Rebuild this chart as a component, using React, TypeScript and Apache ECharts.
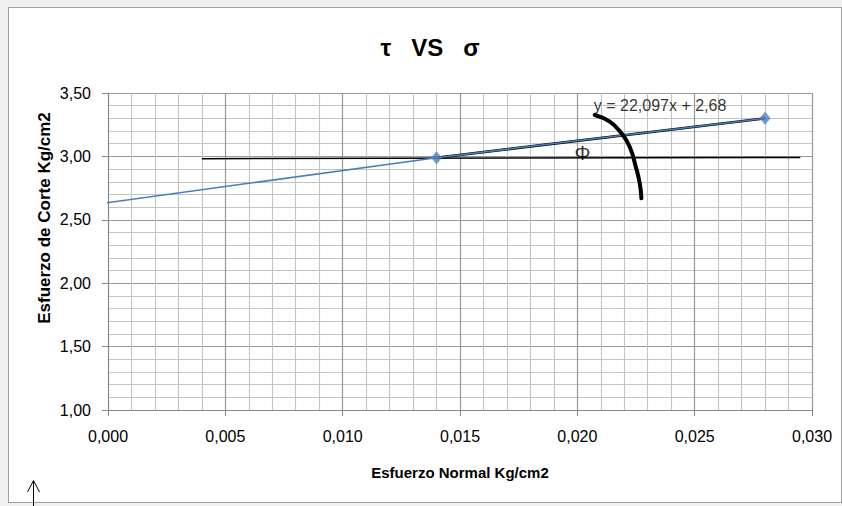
import React, { useEffect, useRef } from "react";
import * as echarts from "echarts";

// Data
const puntosX = [0.014, 0.028];
const puntosY = [2.99, 3.3];
const lineaAzulX = [-0.0009, 0.014, 0.028];
const lineaAzulY = [2.613, 2.99, 3.3];
const horizontalX = [0.004, 0.0295];
const horizontalY = [2.982, 2.992];
const arcoX = [0.02074, 0.02138, 0.02188, 0.02223, 0.02249, 0.02266, 0.02273];
const arcoY = [3.3265, 3.2737, 3.1822, 3.0765, 2.9188, 2.7879, 2.6696];
const phiPos = [0.02022, 3.0245];
const ecuacionPos = [0.0207, 3.3975];
const ecuacionTexto = "y = 22,097x + 2,68";
const titulo = "τ   VS   σ";
const tituloX = "Esfuerzo Normal Kg/cm2";
const tituloY = "Esfuerzo de Corte Kg/cm2";

const zip = (xs: number[], ys: number[]) => xs.map((x, i) => [x, ys[i]]);

const FONT = "'Liberation Sans', Arial, sans-serif";

export default function App() {
  const ref = useRef<HTMLDivElement>(null);
  useEffect(() => {
    document.body.style.margin = "0";
    if (!ref.current) return;
    const chart = echarts.init(ref.current, null, { renderer: "svg" });
    chart.setOption({
      animation: false,
      title: {
        text: titulo,
        left: 430,
        top: 35,
        padding: 0,
        textAlign: "center",
        textStyle: { fontFamily: FONT, fontSize: 24, fontWeight: "bold", color: "#000" },
      },
      grid: { left: 108, top: 93, right: 30, bottom: 96, containLabel: false },
      xAxis: {
        type: "value",
        min: 0,
        max: 0.03,
        interval: 0.005,
        name: tituloX,
        nameLocation: "middle",
        nameGap: 55,
        nameTextStyle: { fontFamily: FONT, fontSize: 15, fontWeight: "bold", color: "#000" },
        axisLine: { lineStyle: { color: "#868686", width: 1 } },
        axisTick: { show: true, length: 6, lineStyle: { color: "#868686" } },
        minorTick: { show: false, splitNumber: 5 },
        axisLabel: {
          margin: 18,
          fontFamily: FONT,
          fontSize: 16,
          color: "#000",
          formatter: (v: number) => v.toFixed(3).replace(".", ","),
        },
        splitLine: { show: true, lineStyle: { color: "#999999", width: 1.2 } },
        minorSplitLine: { show: true, lineStyle: { color: "#c4c4c4", width: 1.1 } },
      },
      yAxis: {
        type: "value",
        min: 1,
        max: 3.5,
        interval: 0.5,
        axisLine: { show: true, lineStyle: { color: "#868686", width: 1 } },
        axisTick: { show: true, length: 6, lineStyle: { color: "#868686" } },
        minorTick: { show: false, splitNumber: 5 },
        axisLabel: {
          margin: 17,
          fontFamily: FONT,
          fontSize: 16,
          color: "#000",
          formatter: (v: number) => v.toFixed(2).replace(".", ","),
        },
        splitLine: { show: true, lineStyle: { color: "#999999", width: 1.2 } },
        minorSplitLine: { show: true, lineStyle: { color: "#c4c4c4", width: 1.1 } },
      },
      graphic: [
        {
          type: "text",
          x: 44,
          y: 218,
          rotation: Math.PI / 2,
          style: {
            text: tituloY,
            fontFamily: FONT,
            fontSize: 17,
            fontWeight: "bold",
            fill: "#000",
            align: "center",
            verticalAlign: "middle",
          },
        },
        {
          type: "line",
          shape: { x1: 33.5, y1: 481, x2: 33.5, y2: 506 },
          style: { stroke: "#000", lineWidth: 1 },
        },
        {
          type: "polyline",
          shape: { points: [[27.5, 492], [33.5, 480.5], [39.5, 492]] },
          style: { stroke: "#000", lineWidth: 1, fill: null },
        },
      ],
      series: [
        {
          type: "line",
          data: zip(horizontalX, horizontalY),
          symbol: "none",
          silent: true,
          lineStyle: { color: "#000", width: 1.5 },
          z: 3,
        },
        {
          type: "line",
          data: zip(puntosX, puntosY),
          symbol: "none",
          silent: true,
          lineStyle: { color: "#000", width: 2.5 },
          z: 4,
        },
        {
          type: "line",
          data: zip(lineaAzulX, lineaAzulY),
          symbol: "none",
          silent: true,
          clip: false,
          lineStyle: { color: "#4A7EBB", width: 1.5 },
          z: 5,
        },
        {
          type: "scatter",
          data: zip(puntosX, puntosY),
          symbol: "diamond",
          symbolSize: [11, 13],
          itemStyle: { color: "#4F81BD" },
          z: 6,
        },
        {
          type: "line",
          data: zip(arcoX, arcoY),
          symbol: "none",
          smooth: true,
          silent: true,
          lineStyle: { color: "#000", width: 4, cap: "round" },
          z: 7,
        },
        {
          type: "scatter",
          data: [phiPos],
          symbolSize: 0,
          silent: true,
          label: {
            show: true,
            position: "inside",
            formatter: "Φ",
            fontFamily: FONT,
            fontSize: 20,
            color: "#000",
          },
          z: 8,
        },
        {
          type: "scatter",
          data: [ecuacionPos],
          symbolSize: 0,
          silent: true,
          label: {
            show: true,
            position: "right",
            distance: 0,
            formatter: ecuacionTexto,
            fontFamily: FONT,
            fontSize: 16,
            color: "#000",
          },
          z: 8,
        },
      ],
    });
    return () => chart.dispose();
  }, []);

  return (
    <div style={{ position: "relative", width: 842, height: 506, background: "#f0f0f0", overflow: "hidden" }}>
      <div
        style={{
          position: "absolute",
          left: 8,
          top: 7,
          width: 834,
          height: 496,
          background: "#fff",
          border: "1px solid #a0a0a0",
          boxSizing: "border-box",
        }}
      />
      <div ref={ref} style={{ position: "absolute", left: 0, top: 0, width: 842, height: 506 }} />
    </div>
  );
}
